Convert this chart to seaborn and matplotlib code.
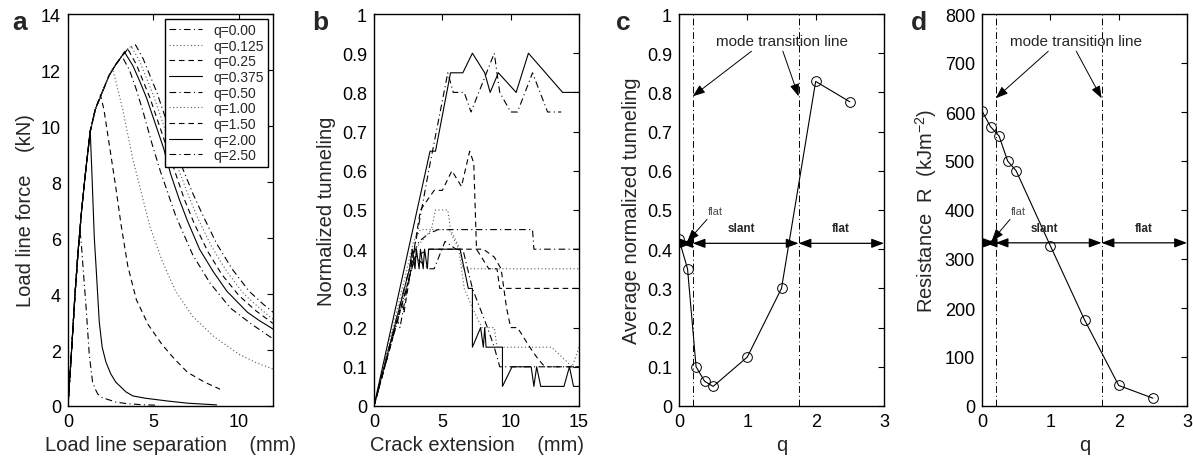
import matplotlib
matplotlib.use("Agg")
import matplotlib.pyplot as plt
import seaborn as sns

sns.set_style("white")
plt.rcParams['font.family'] = ['Liberation Sans', 'DejaVu Sans']
plt.rcParams['mathtext.fontset'] = 'custom'
plt.rcParams['mathtext.rm'] = 'Liberation Sans'

# ---------------- data: (a) load line force vs separation ----------------
q_labels = ['q=0.00', 'q=0.125', 'q=0.25', 'q=0.375', 'q=0.50',
            'q=1.00', 'q=1.50', 'q=2.00', 'q=2.50']

# common loading branch
rise_x = [0, 0.2, 0.4, 0.6, 0.8, 1.0, 1.3, 1.6, 2.0, 2.4, 2.8, 3.1]
rise_y = [0, 1.9, 3.9, 5.6, 7.0, 8.2, 9.8, 10.6, 11.2, 11.8, 12.2, 12.45]

# post-peak branches
a_q000_x = [3.5, 3.95, 4.4, 4.8, 5.2, 5.7, 6.2, 6.7, 7.3, 7.9, 8.7, 9.6, 10.6, 11.4, 12]
a_q000_y = [12.75, 12.9, 12.4, 11.8, 11.2, 10.3, 9.4, 8.5, 7.6, 6.8, 5.8, 4.9, 4.1, 3.65, 3.35]
a_q0125_x = [3.4, 3.7, 4.2, 4.6, 5.0, 5.5, 6.0, 6.5, 7.0, 7.6, 8.4, 9.3, 10.3, 11.2, 12]
a_q0125_y = [12.7, 12.85, 12.3, 11.7, 11.1, 10.2, 9.3, 8.4, 7.6, 6.7, 5.7, 4.8, 4.0, 3.5, 3.1]
a_q025_x = [3.5, 4.0, 4.4, 4.8, 5.3, 5.8, 6.3, 6.8, 7.4, 8.2, 9.0, 10.0, 11.0, 12]
a_q025_y = [12.75, 12.2, 11.6, 11.0, 10.1, 9.2, 8.3, 7.4, 6.5, 5.5, 4.7, 3.95, 3.4, 2.95]
a_q0375_x = [3.3, 3.8, 4.2, 4.6, 5.1, 5.6, 6.0, 6.5, 7.0, 7.7, 8.5, 9.3, 10.5, 11.2, 12]
a_q0375_y = [12.65, 12.15, 11.6, 11.0, 10.1, 9.2, 8.3, 7.4, 6.6, 5.6, 4.8, 4.1, 3.35, 3.05, 2.75]
a_q050_x = [3.15, 3.6, 4.0, 4.4, 4.9, 5.4, 6.3, 7.3, 8.3, 9.5, 10.8, 12]
a_q050_y = [12.5, 12.0, 11.3, 10.5, 9.4, 8.4, 6.8, 5.4, 4.4, 3.5, 2.9, 2.4]
a_q100_x = [2.6, 2.8, 3.2, 3.8, 4.3, 4.8, 5.5, 6.3, 7.3, 8.5, 10.0, 11.0, 12.0]
a_q100_y = [12.05, 11.6, 10.6, 8.8, 7.6, 6.4, 5.2, 4.1, 3.2, 2.5, 1.85, 1.55, 1.32]
a_q150_x = [1.9, 2.1, 2.5, 2.8, 3.1, 3.5, 4.0, 4.7, 5.5, 6.2, 7.0, 8.0, 8.9]
a_q150_y = [11.1, 10.6, 9.0, 7.8, 6.5, 5.0, 3.8, 2.9, 2.2, 1.7, 1.2, 0.85, 0.6]
a_q200_x = [1.3, 1.4, 1.54, 1.64, 1.83, 2.0, 2.22, 2.5, 2.8, 3.4, 3.8, 4.5, 5.8, 7.0, 8.7]
a_q200_y = [9.85, 8.3, 6.0, 5.0, 3.0, 2.1, 1.57, 1.15, 0.85, 0.5, 0.36, 0.28, 0.18, 0.1, 0.04]
a_q250_x = [0.7, 0.76, 0.9, 1.05, 1.25, 1.44, 1.6, 1.74, 2.0, 2.8, 3.5, 4.5, 5.2]
a_q250_y = [6.2, 5.96, 4.8, 3.6, 1.8, 0.85, 0.6, 0.43, 0.3, 0.14, 0.08, 0.04, 0.03]

a_tails = [(a_q000_x, a_q000_y), (a_q0125_x, a_q0125_y), (a_q025_x, a_q025_y),
           (a_q0375_x, a_q0375_y), (a_q050_x, a_q050_y), (a_q100_x, a_q100_y),
           (a_q150_x, a_q150_y), (a_q200_x, a_q200_y), (a_q250_x, a_q250_y)]

# ---------------- data: (b) normalized tunneling vs crack extension ----------------
b1_x = [0, 3.0, 4.0, 4.4, 5.2, 6.0, 6.5, 7.2, 8.3, 8.8, 9.2, 15]
b1_y = [0, 0.38, 0.35, 0.35, 0.42, 0.4, 0.4, 0.3, 0.2, 0.15, 0.1, 0.1]
b2_x = [0, 2.9, 3.4, 4.2, 4.5, 5.4, 5.6, 6.3, 6.5, 15]
b2_y = [0, 0.42, 0.45, 0.45, 0.5, 0.5, 0.45, 0.4, 0.35, 0.35]
b3_x = [0, 2.0, 2.2, 3.4, 4.4, 5.0, 5.7, 6.4, 7.0, 7.3, 7.5, 8.4, 9.0, 9.2, 15]
b3_y = [0, 0.26, 0.24, 0.5, 0.55, 0.55, 0.6, 0.56, 0.65, 0.62, 0.4, 0.35, 0.35, 0.3, 0.3]
b4_x = [0, 2.6, 2.8, 3.0, 3.1, 3.3, 3.4, 3.6, 3.7, 3.9, 4.0, 6.3, 6.9, 7.2, 7.2, 7.8,
        8.0, 8.1, 8.2, 9.4, 9.4, 10.1, 11.5, 11.7, 11.9, 12.2, 13.9, 14.3, 14.6, 15]
b4_y = [0, 0.35, 0.4, 0.35, 0.4, 0.35, 0.4, 0.35, 0.4, 0.35, 0.4, 0.4, 0.3, 0.3, 0.15, 0.2,
        0.15, 0.2, 0.15, 0.15, 0.05, 0.1, 0.1, 0.05, 0.1, 0.05, 0.05, 0.1, 0.05, 0.05]
b5_x = [0, 2.8, 3.3, 4.0, 4.7, 5.0, 11.6, 11.7, 15]
b5_y = [0, 0.38, 0.42, 0.44, 0.45, 0.45, 0.45, 0.4, 0.4]
b6_x = [0, 3.0, 4.2, 5.5, 6.2, 6.6, 7.2, 7.9, 8.8, 9.0, 12.5, 13.0, 14.5, 15]
b6_y = [0, 0.4, 0.45, 0.45, 0.4, 0.3, 0.25, 0.2, 0.2, 0.15, 0.15, 0.15, 0.1, 0.15]
b7_x = [0, 3.0, 4.0, 7.5, 8.0, 8.8, 9.3, 9.7, 10.0, 10.5, 11.4, 12.0, 12.5, 15]
b7_y = [0, 0.38, 0.4, 0.4, 0.4, 0.38, 0.35, 0.25, 0.2, 0.2, 0.15, 0.12, 0.1, 0.1]
b8_x = [0, 4.1, 4.5, 5.6, 6.5, 7.2, 8.1, 8.5, 9.1, 10.4, 11.3, 13.8, 15]
b8_y = [0, 0.65, 0.65, 0.85, 0.85, 0.9, 0.85, 0.8, 0.85, 0.8, 0.9, 0.8, 0.8]
b9_x = [0, 1.7, 1.9, 4.0, 5.4, 5.8, 6.6, 7.1, 8.8, 9.2, 10.0, 10.5, 11.6, 12.7, 13.7]
b9_y = [0, 0.22, 0.2, 0.6, 0.85, 0.8, 0.8, 0.75, 0.9, 0.8, 0.75, 0.75, 0.85, 0.75, 0.75]

b_series = [(b1_x, b1_y), (b2_x, b2_y), (b3_x, b3_y), (b4_x, b4_y), (b5_x, b5_y),
            (b6_x, b6_y), (b7_x, b7_y), (b8_x, b8_y), (b9_x, b9_y)]

# ---------------- data: (c), (d) ----------------
q_vals = [0, 0.125, 0.25, 0.375, 0.5, 1.0, 1.5, 2.0, 2.5]
avg_tunnel = [0.425, 0.35, 0.10, 0.063, 0.05, 0.125, 0.30, 0.828, 0.776]
resistance = [602, 570, 551, 500, 480, 327, 176, 42, 16]
transition_q = [0.2, 1.75]

tick01 = [0, 0.1, 0.2, 0.3, 0.4, 0.5, 0.6, 0.7, 0.8, 0.9, 1]
tick01_labels = ['0', '0.1', '0.2', '0.3', '0.4', '0.5', '0.6', '0.7', '0.8', '0.9', '1']

# ---------------- styles ----------------
LS = {'dashdot': (0, (6, 3, 1, 3)), 'dotted': (0, (1, 2.2)),
      'dashed': (0, (5, 3.5)), 'solid': '-'}
styles = ['dashdot', 'dotted', 'dashed', 'solid', 'dashdot',
          'dotted', 'dashed', 'solid', 'dashdot']
TICK = 13
LAB = 14.5


def box(ax):
    for s in ax.spines.values():
        s.set_color('black')
        s.set_linewidth(1.0)
    ax.tick_params(direction='in', top=True, right=True, length=4, width=0.8,
                   labelsize=TICK, colors='black', pad=5)


def draw(ax, x, y, style, **kw):
    col = '0.35' if style == 'dotted' else 'black'
    sns.lineplot(x=x, y=y, ax=ax, sort=False, estimator=None, color=col,
                 linestyle=LS[style], lw=0.8, **kw)


fig = plt.figure(figsize=(11.93, 4.64), dpi=100)
W, H = 1193, 464
pos = [68, 374, 679, 982]
axes = [fig.add_axes([p / W, 57 / H, 205 / W, 392 / H]) for p in pos]

# ---------------- (a) ----------------
ax = axes[0]
for (tx, ty), st, lab in zip(a_tails, styles, q_labels):
    xs = [v for v in rise_x if v < tx[0]] + tx
    ys = [rise_y[i] for i, v in enumerate(rise_x) if v < tx[0]] + ty
    draw(ax, xs, ys, st, label=lab)
ax.set_xlim(0, 12)
ax.set_ylim(0, 14)
ax.set_xticks([0, 5, 10])
ax.set_yticks(range(0, 15, 2))
ax.set_xlabel('Load line separation    (mm)', fontsize=LAB)
ax.set_ylabel('Load line force    (kN)', fontsize=LAB)
leg = ax.legend(loc='upper right', fontsize=10, frameon=True, fancybox=False,
                edgecolor='black', framealpha=1, handlelength=2.4,
                labelspacing=0.12, borderpad=0.3, handletextpad=0.8,
                borderaxespad=0.35)
leg.get_frame().set_linewidth(1.0)
box(ax)

# ---------------- (b) ----------------
ax = axes[1]
for (x, y), st in zip(b_series, styles):
    draw(ax, x, y, st)
ax.set_xlim(0, 15)
ax.set_ylim(0, 1)
ax.set_xticks([0, 5, 10, 15])
ax.set_yticks(tick01, tick01_labels)
ax.set_xlabel('Crack extension    (mm)', fontsize=LAB)
ax.set_ylabel('Normalized tunneling', fontsize=LAB)
box(ax)


# ---------------- (c) and (d) ----------------
def mode_panel(ax, y, ymax, arrow_y, ann):
    sns.lineplot(x=q_vals, y=y, ax=ax, sort=False, estimator=None, color='black',
                 lw=0.8, marker='o', markersize=7, markerfacecolor='none',
                 markeredgecolor='black', markeredgewidth=0.7)
    for tq in transition_q:
        ax.axvline(tq, color='black', lw=0.7, linestyle=(0, (7, 3, 1, 3)))
    both = dict(arrowstyle='<|-|>,head_length=0.75,head_width=0.28',
                color='black', lw=0.9, shrinkA=0, shrinkB=0)
    one = dict(arrowstyle='-|>,head_length=0.75,head_width=0.28',
               color='black', lw=0.7, shrinkA=0, shrinkB=0)
    for a0, a1 in [(ann['left0'], transition_q[0]), (transition_q[0], transition_q[1]),
                   (transition_q[1], 3.0)]:
        ax.annotate('', xy=(a1, arrow_y), xytext=(a0, arrow_y), arrowprops=both)
    f = ymax / 1.0
    ax.text(ann['mode_x'], 0.93 * f, 'mode transition line', fontsize=11,
            ha='center', va='center')
    ax.annotate('', xy=(0.2, ann['tip_y'] * f), xytext=(ann['a1_x'], 0.905 * f), arrowprops=one)
    ax.annotate('', xy=(1.75, ann['tip_y'] * f), xytext=(ann['a2_x'], 0.905 * f), arrowprops=one)
    ax.text(0.92, 0.455 * f, 'slant', fontsize=8.5, fontweight='bold', ha='center', va='center')
    ax.text(2.37, 0.455 * f, 'flat', fontsize=8.5, fontweight='bold', ha='center', va='center')
    ax.text(0.53, 0.498 * f, 'flat', fontsize=8, color='0.3', ha='center', va='center')
    ax.annotate('', xy=(ann['left0'] + 0.1, arrow_y + 0.004 * f), xytext=(0.41, 0.476 * f),
                arrowprops=one)
    ax.set_xlim(0, 3)
    ax.set_ylim(0, ymax)
    ax.set_xticks([0, 1, 2, 3])
    ax.set_xlabel('q', fontsize=LAB)
    box(ax)


ax = axes[2]
mode_panel(ax, avg_tunnel, 1.0, 0.415,
           dict(left0=0.02, mode_x=1.5, tip_y=0.79, a1_x=1.06, a2_x=1.52))
ax.set_yticks(tick01, tick01_labels)
ax.set_ylabel('Average normalized tunneling', fontsize=LAB)

ax = axes[3]
mode_panel(ax, resistance, 800, 333,
           dict(left0=0.04, mode_x=1.38, tip_y=0.785, a1_x=0.97, a2_x=1.38))
ax.set_yticks(range(0, 801, 100))
ax.set_ylabel('Resistance  R  (kJm$^{-2}$)', fontsize=LAB)

# panel letters
for xp, letter in zip([12, 312, 616, 911], ['a', 'b', 'c', 'd']):
    fig.text(xp / W, 1 - 30 / H, letter, fontsize=19, fontweight='bold')

fig.savefig('out.png', dpi=100)
